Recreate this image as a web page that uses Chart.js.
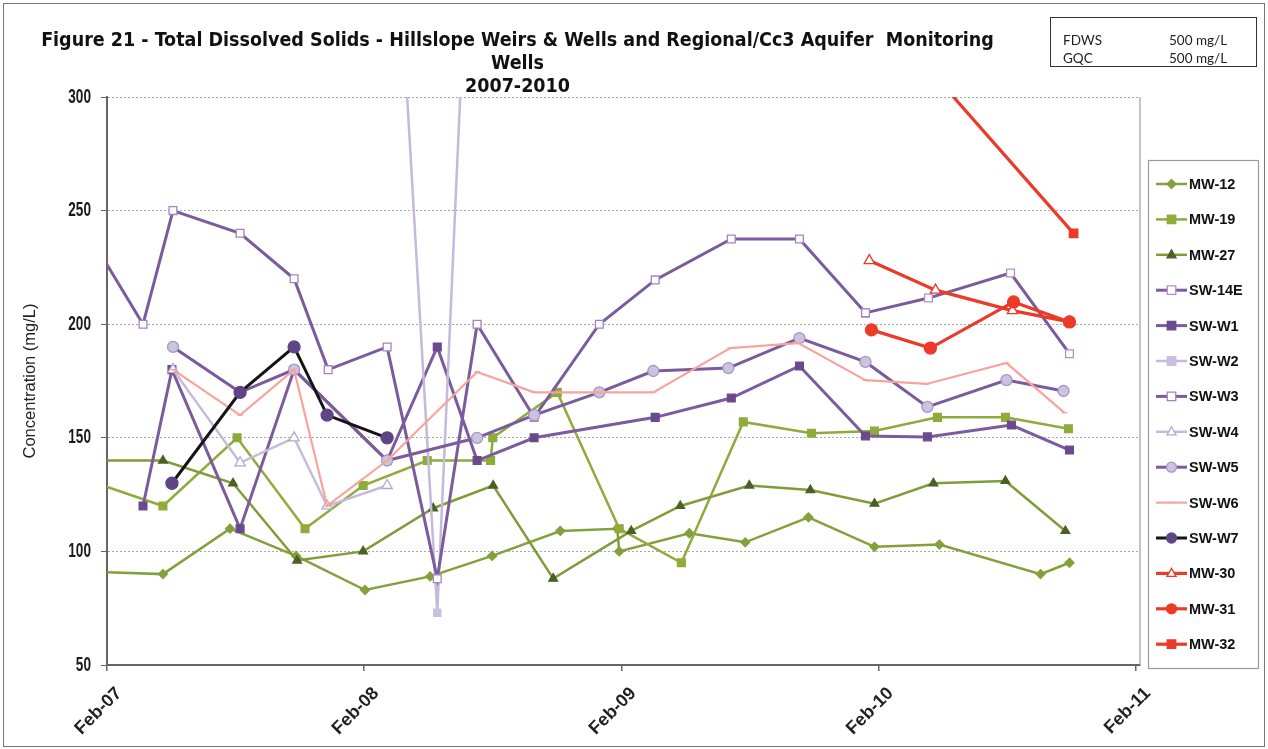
<!DOCTYPE html>
<html><head><meta charset="utf-8">
<script src="https://cdn.jsdelivr.net/npm/chart.js@4.4.1/dist/chart.umd.min.js"></script>
<style>
html,body{margin:0;padding:0;background:#fff;}
#wrap{position:relative;width:1268px;height:749px;overflow:hidden;background:#fff;}
#frame{position:absolute;left:3px;top:3px;width:1262px;height:744px;border:1px solid #777;box-sizing:border-box;pointer-events:none;}
canvas{position:absolute;left:0;top:0;}
#title{position:absolute;left:36px;width:963px;top:28px;text-align:center;font:bold 19.5px "Liberation Sans Narrow","Arial Narrow","DejaVu Sans Condensed",sans-serif;line-height:23px;color:#111;white-space:nowrap;}
#std{position:absolute;left:1050px;top:17px;width:207px;height:50px;border:1.5px solid #333;box-sizing:border-box;font:13.5px Lato,"Liberation Sans",sans-serif;color:#222;}
#std div{position:absolute;}
</style>
</head><body>
<div id="wrap">
<canvas id="c" width="1268" height="749"></canvas>
<div id="frame"></div>
<div id="title">Figure 21 - Total Dissolved Solids - Hillslope Weirs &amp; Wells and Regional/Cc3 Aquifer&nbsp; Monitoring<br>Wells<br>2007-2010</div>
<div id="std">
  <div style="left:12px;top:14px">FDWS</div><div style="left:118px;top:14px">500 mg/L</div>
  <div style="left:12px;top:32px">GQC</div><div style="left:118px;top:32px">500 mg/L</div>
</div>
</div>
<script>
// ---- axis labels ----
const xTickValues = [0, 12, 24, 36, 48];           // months since Feb-07
const xTickLabels = ['Feb-07', 'Feb-08', 'Feb-09', 'Feb-10', 'Feb-11'];
const yTickValues = [50, 100, 150, 200, 250, 300];

// ---- data: sample time (months since Feb-2007) and TDS (mg/L) ----
const mw12Months = [-0.5, 2.61, 5.74, 8.82, 12.04, 15.08, 17.97, 21.15, 23.81, 23.9, 27.17, 29.78, 32.73, 35.81, 38.84, 43.56, 44.91];
const mw12Values = [91, 90, 110, 98, 83, 89, 98, 109, 110, 100, 108, 104, 115, 102, 103, 90, 95];

const mw19Months = [-0.5, 2.61, 6.07, 9.24, 11.95, 14.94, 17.9, 18.0, 21.01, 23.9, 26.8, 29.69, 32.87, 35.81, 38.75, 41.92, 44.86];
const mw19Values = [130, 120, 150, 110, 129, 140, 140, 150, 170, 110, 95, 157, 152, 153, 159, 159, 154];

const mw27Months = [-0.5, 2.61, 5.88, 8.87, 11.95, 15.22, 18.02, 20.82, 24.46, 26.75, 29.97, 32.82, 35.81, 38.56, 41.92, 44.72];
const mw27Values = [140, 140, 130, 96, 100, 119, 129, 88, 109, 120, 129, 127, 121, 130, 131, 109];

const sw14eMonths = [35.39, 38.33, 42.16, 44.91];
const sw14eValues = [205, 211.5, 222.5, 187];

const swW1Months = [1.68, 3.03, 6.21, 8.73, 13.07, 15.41, 17.27, 19.93, 25.58, 29.13, 32.31, 35.39, 38.28, 42.2, 44.91];
const swW1Values = [120, 180, 110, 180, 140, 190, 140, 150, 159, 167.5, 181.6, 150.8, 150.4, 155.6, 144.6];

const swW2Months = [13.07, 15.41, 17.27];
const swW2Values = [451, 73, 468];

const swW3Months = [-0.5, 1.68, 3.08, 6.21, 8.73, 10.32, 13.07, 15.41, 17.27, 19.93, 22.97, 25.58, 29.13, 32.31, 35.39];
const swW3Values = [234, 200, 250, 240, 220, 180, 190, 88, 200, 159, 200, 219.5, 237.5, 237.5, 205];

const swW4Months = [3.08, 6.21, 8.73, 10.27, 13.07];
const swW4Values = [180, 139, 150, 120, 129];

const swW5Months = [3.08, 6.21, 8.73, 13.07, 17.27, 19.93, 22.97, 25.49, 28.99, 32.31, 35.39, 38.28, 41.97, 44.63];
const swW5Values = [190, 170, 180, 140, 150, 160, 170, 179.4, 180.7, 193.9, 183.4, 163.6, 175.4, 170.6];

const swW6Months = [3.08, 6.21, 8.73, 10.27, 13.07, 17.27, 19.93, 22.97, 25.49, 29.08, 32.26, 35.39, 38.24, 41.97, 44.68];
const swW6Values = [180, 160, 180, 120, 140, 179, 170, 170, 170, 189.5, 191.7, 175.4, 173.7, 182.9, 161];

const swW7Months = [3.03, 6.21, 8.73, 10.27, 13.07];
const swW7Values = [130, 170, 190, 160, 150];

const mw30Months = [35.57, 38.66, 42.25, 44.91];
const mw30Values = [228, 215, 206, 201];

const mw31Months = [35.67, 38.42, 42.3, 44.91];
const mw31Values = [197.5, 189.5, 209.8, 201];

const mw32Months = [35.67, 45.1];
const mw32Values = [341, 240];

// ---- series list (label, data arrays, styling) ----
const PURPLE = '#7b5b9b';
const LAV = '#c5badb';
const RED = '#ec3a28';
const series = [
  ['MW-12', mw12Months, mw12Values, {line:'#84a03c', lw:2.5, ps:'rectRot', r:4.5, fill:'#84a03c', stroke:'#84a03c'}],
  ['MW-19', mw19Months, mw19Values, {line:'#8eab3c', lw:2.5, ps:'rect', r:5.5, fill:'#8eab3c', stroke:'#8eab3c'}],
  ['MW-27', mw27Months, mw27Values, {line:'#809c3a', lw:2.5, ps:'triangle', r:5, fill:'#4b6024', stroke:'#4b6024'}],
  ['SW-14E', sw14eMonths, sw14eValues, {line:PURPLE, lw:3, ps:'rect', r:5.5, fill:'#ffffff', stroke:'#b98cc4'}],
  ['SW-W1', swW1Months, swW1Values, {line:PURPLE, lw:3, ps:'rect', r:5.5, fill:'#6a4a8c', stroke:'#6a4a8c'}],
  ['SW-W2', swW2Months, swW2Values, {line:LAV, lw:2.5, ps:'rect', r:5, fill:'#c9bedd', stroke:'#c9bedd'}],
  ['SW-W3', swW3Months, swW3Values, {line:PURPLE, lw:3, ps:'rect', r:5.5, fill:'#ffffff', stroke:'#a583bf'}],
  ['SW-W4', swW4Months, swW4Values, {line:LAV, lw:2.5, ps:'triangle', r:6, fill:'#ffffff', stroke:'#b7a6d0'}],
  ['SW-W5', swW5Months, swW5Values, {line:PURPLE, lw:3, ps:'circle', r:5.5, fill:'#ccc4de', stroke:'#a596c4'}],
  ['SW-W6', swW6Months, swW6Values, {line:'#f6a49c', lw:2.2, ps:'line', r:3, fill:'#f6a49c', stroke:'#f6a49c'}],
  ['SW-W7', swW7Months, swW7Values, {line:'#141414', lw:3, ps:'circle', r:6, fill:'#5f4585', stroke:'#5f4585'}],
  ['MW-30', mw30Months, mw30Values, {line:RED, lw:3.2, ps:'triangle', r:6, fill:'#ffffff', stroke:RED}],
  ['MW-31', mw31Months, mw31Values, {line:RED, lw:3.2, ps:'circle', r:6, fill:RED, stroke:RED}],
  ['MW-32', mw32Months, mw32Values, {line:RED, lw:3.2, ps:'rect', r:6, fill:RED, stroke:RED}],
];

const datasets = series.map(([label, xs, ys, s], i) => ({
  label,
  data: xs.map((x, k) => ({x, y: ys[k]})),
  borderColor: s.line,
  borderWidth: s.lw,
  pointStyle: s.ps,
  pointRadius: s.r,
  pointBackgroundColor: s.fill,
  pointBorderColor: s.stroke,
  pointBorderWidth: 1.3,
  tension: 0,
  fill: false,
  order: series.length - i,
}));

function drawMarker(ctx, s, x, y) {
  const r = s.r;
  ctx.save();
  ctx.fillStyle = s.fill; ctx.strokeStyle = s.stroke; ctx.lineWidth = 1.3;
  ctx.beginPath();
  if (s.ps === 'circle') { ctx.arc(x, y, r, 0, Math.PI * 2); }
  else if (s.ps === 'rect') { ctx.rect(x - r * 0.85, y - r * 0.85, r * 1.7, r * 1.7); }
  else if (s.ps === 'rectRot') { ctx.moveTo(x, y - r); ctx.lineTo(x + r, y); ctx.lineTo(x, y + r); ctx.lineTo(x - r, y); ctx.closePath(); }
  else if (s.ps === 'triangle') { ctx.moveTo(x, y - r); ctx.lineTo(x + r * 0.9, y + r * 0.6); ctx.lineTo(x - r * 0.9, y + r * 0.6); ctx.closePath(); }
  else if (s.ps === 'line') { ctx.moveTo(x - r, y); ctx.lineTo(x + r, y); ctx.stroke(); ctx.restore(); return; }
  ctx.fill(); ctx.stroke();
  ctx.restore();
}

const extras = {
  id: 'extras',
  beforeDatasetsDraw(chart) {
    const {ctx, chartArea: a} = chart;
    ctx.save();
    ctx.strokeStyle = '#9a9a9a'; ctx.lineWidth = 1.2;
    ctx.beginPath(); ctx.moveTo(a.right, a.top); ctx.lineTo(a.right, a.bottom); ctx.stroke();
    ctx.restore();
  },
  afterDraw(chart) {
    const {ctx, chartArea: a} = chart;
    const yScale = chart.scales.y;
    // y tick labels (condensed bold)
    ctx.save();
    ctx.fillStyle = '#1a1a1a';
    ctx.font = 'bold 20px "Liberation Sans", Arial, sans-serif';
    ctx.textAlign = 'right'; ctx.textBaseline = 'middle';
    yTickValues.forEach(v => {
      const py = yScale.getPixelForValue(v);
      ctx.save();
      ctx.translate(91, py);
      ctx.scale(0.68, 1);
      ctx.fillText(String(v), 0, 0);
      ctx.restore();
    });
    ctx.restore();
    // y-axis title
    ctx.save();
    ctx.translate(30, (a.top + a.bottom) / 2);
    ctx.rotate(-Math.PI / 2);
    ctx.fillStyle = '#222';
    ctx.font = '16.5px "Liberation Sans", Arial, sans-serif';
    ctx.textAlign = 'center'; ctx.textBaseline = 'middle';
    ctx.fillText('Concentration (mg/L)', 0, 0);
    ctx.restore();
    // legend
    const lx = 1148, ly = 160, lw = 110, lh = 508;
    ctx.save();
    ctx.fillStyle = '#fff'; ctx.fillRect(lx, ly, lw, lh);
    ctx.strokeStyle = '#9a9a9a'; ctx.lineWidth = 1.2; ctx.strokeRect(lx + 0.5, ly + 0.5, lw, lh);
    ctx.font = 'bold 14.5px "Liberation Sans", Arial, sans-serif';
    ctx.textBaseline = 'middle'; ctx.textAlign = 'left';
    series.forEach(([label, , , s], i) => {
      const y = 184 + i * 35.4;
      ctx.strokeStyle = s.line; ctx.lineWidth = s.lw;
      ctx.beginPath(); ctx.moveTo(1156, y); ctx.lineTo(1187, y); ctx.stroke();
      drawMarker(ctx, Object.assign({}, s, {r: Math.min(s.r, 5)}), 1171.5, y);
      ctx.fillStyle = '#111';
      ctx.fillText(label, 1189, y + 1);
    });
    ctx.restore();
  }
};

new Chart(document.getElementById('c'), {
  type: 'line',
  data: { datasets },
  options: {
    responsive: false,
    animation: false,
    devicePixelRatio: 1,
    layout: { padding: { left: 0, top: 97, right: 128, bottom: 0 } },
    plugins: { legend: { display: false }, title: { display: false }, tooltip: { enabled: false } },
    scales: {
      x: {
        type: 'linear', min: 0, max: 48.2,
        afterFit(s) { s.height = 84; },
        afterBuildTicks(s) { s.ticks = xTickValues.map(v => ({ value: v })); },
        grid: { drawOnChartArea: false, drawTicks: true, tickLength: 6, color: '#666', lineWidth: 1.5 },
        border: { display: true, color: '#666', width: 2 },
        ticks: {
          autoSkip: false, minRotation: 45, maxRotation: 45, padding: 12, labelOffset: 12,
          color: '#222',
          font: { family: '"Liberation Sans", Arial, sans-serif', size: 18, weight: 'bold' },
          callback: (v) => xTickLabels[xTickValues.indexOf(v)] ?? ''
        }
      },
      y: {
        min: 50, max: 300,
        afterFit(s) { s.width = 107; },
        afterBuildTicks(s) { s.ticks = yTickValues.map(v => ({ value: v })); },
        grid: { color: '#a8a8a8', lineWidth: 1, drawTicks: true, tickLength: 6, tickColor: '#666' },
        border: { display: true, color: '#666', width: 2, dash: [2, 2] },
        ticks: { display: false }
      }
    }
  },
  plugins: [extras]
});
</script>
</body></html>
